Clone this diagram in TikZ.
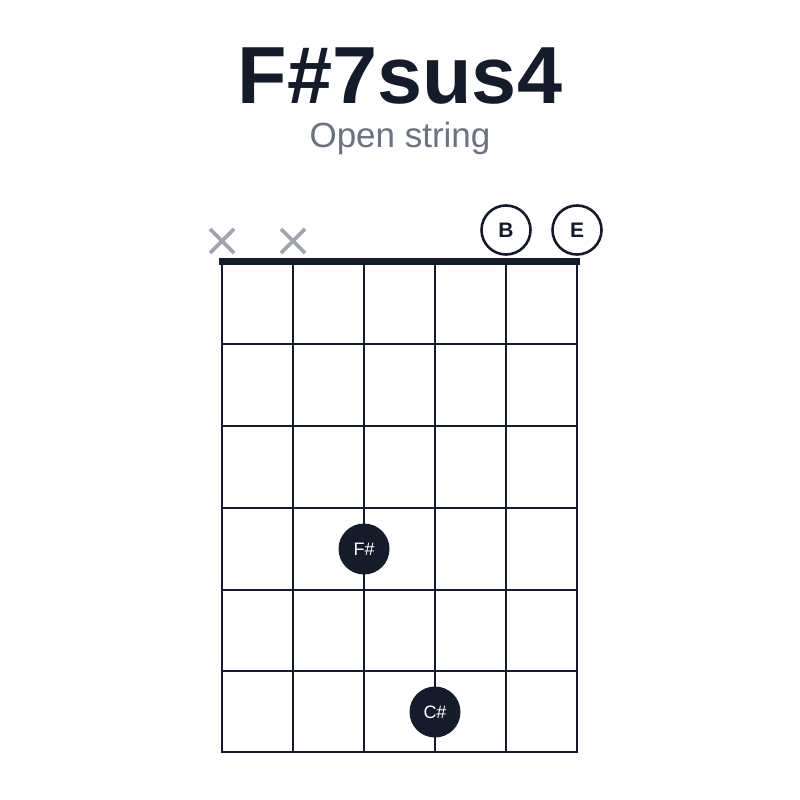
\documentclass[tikz,border=0pt]{standalone}
\usepackage{fontspec}
\setmainfont{Liberation Sans}
\definecolor{ink}{RGB}{20,27,42}
\definecolor{subgray}{RGB}{107,114,128}
\definecolor{mutegray}{RGB}{160,165,175}
\tikzset{
	fingerdot/.style={circle,fill=ink,minimum size=51pt,inner sep=0pt,text=white,font=\fontsize{18}{18}\selectfont},
	openmark/.style={circle,draw=ink,line width=2.6pt,fill=white,minimum size=49pt,inner sep=0pt,text=ink,font=\bfseries\fontsize{21}{21}\selectfont},
	mutemark/.style={draw=mutegray,line width=3.8pt},
}
\begin{document}
\begin{tikzpicture}[x=1pt,y=-1pt]
	\useasboundingbox[fill=white] (0,0) rectangle (800,800);
	% title and subtitle
	\node[anchor=base,text=ink,font=\bfseries\fontsize{81}{81}\selectfont] (title) at (400,103) {F\#7sus4};
	\node[anchor=base,text=subgray,font=\fontsize{35}{35}\selectfont] (subtitle) at (400,147) {Open string};
	% the strings
	\foreach \x in {222,293,364,435,506,577}
		\draw[ink,line width=2pt] (\x,261) -- (\x,752);
	% the frets
	\foreach \y in {344,426,508,590,671,752}
		\draw[ink,line width=2pt] (221,\y) -- (578,\y);
	% the nut
	\draw[ink,line width=7pt] (219,261) -- (580,261);
	% muted strings
	\foreach \x/\name in {222/muteA,293/muteB} {
		\coordinate (\name) at (\x,241);
		\draw[mutemark] ([shift={(-12,-12)}]\name) -- ([shift={(12,12)}]\name);
		\draw[mutemark] ([shift={(-12,12)}]\name) -- ([shift={(12,-12)}]\name);
	}
	% open strings
	\node[openmark] (openB) at (506,230) {B};
	\node[openmark] (openE) at (577,230) {E};
	% fingered notes
	\node[fingerdot] (noteF) at (364,549) {F\#};
	\node[fingerdot] (noteC) at (435,712) {C\#};
\end{tikzpicture}
\end{document}
